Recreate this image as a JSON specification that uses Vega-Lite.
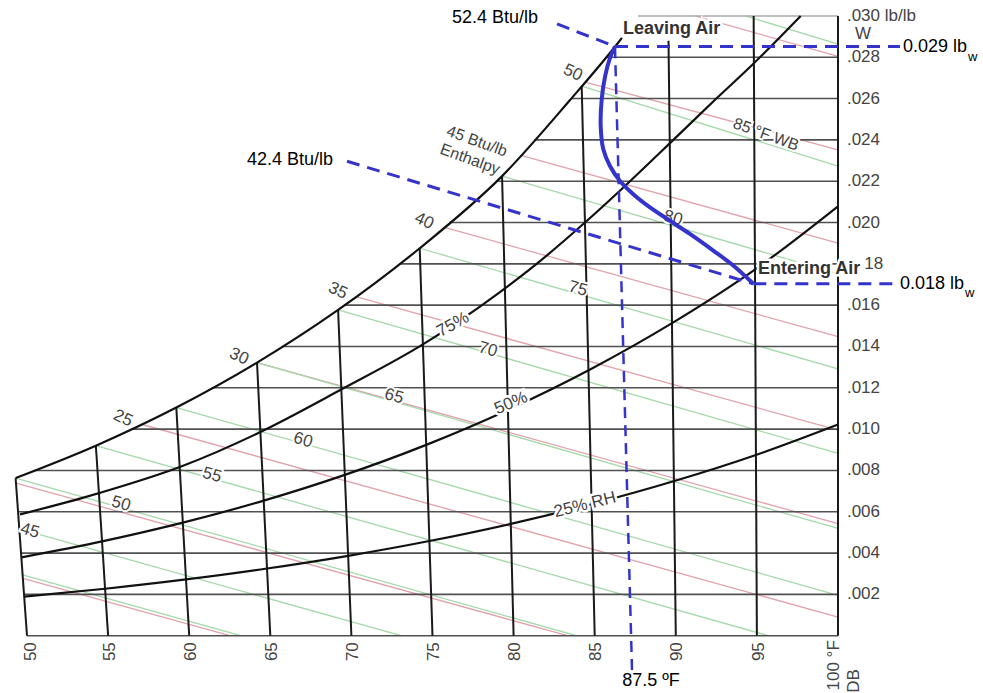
{
"$schema": "https://vega.github.io/schema/vega-lite/v6.json",
"width": 983, "height": 693,
"autosize": {"type": "fit", "contains": "padding"},
"padding": 0,
"background": "white",
"config": {"view": {"stroke": null}, "text": {"font": "Liberation Sans"}},
"datasets": {
"enth": [
{"h":15,"i":0,"x":49.745,"y":0.00277},{"h":15,"i":1,"x":62.5,"y":0},
{"h":20,"i":0,"x":49.32,"y":0.007386},{"h":20,"i":1,"x":83.33,"y":0},
{"h":25,"i":0,"x":57.038,"y":0.010236},{"h":25,"i":1,"x":100,"y":0.000905},
{"h":30,"i":0,"x":64.181,"y":0.013217},{"h":30,"i":1,"x":100,"y":0.005428},
{"h":35,"i":0,"x":70.272,"y":0.016418},{"h":35,"i":1,"x":100,"y":0.009951},
{"h":40,"i":0,"x":75.687,"y":0.019773},{"h":40,"i":1,"x":100,"y":0.014474},
{"h":45,"i":0,"x":80.45,"y":0.023248},{"h":45,"i":1,"x":100,"y":0.018998},
{"h":50,"i":0,"x":84.41,"y":0.0268},{"h":50,"i":1,"x":100,"y":0.023521},
{"h":55,"i":0,"x":91.19,"y":0.03},{"h":55,"i":1,"x":100,"y":0.028044}
],
"wb": [
{"t":40,"i":0,"x":49.729,"y":0.002941},{"t":40,"i":1,"x":63.18,"y":0},
{"t":45,"i":0,"x":49.524,"y":0.005174},{"t":45,"i":1,"x":73.07,"y":0},
{"t":50,"i":0,"x":49.298,"y":0.007631},{"t":50,"i":1,"x":83.87,"y":0},
{"t":55,"i":0,"x":54.246,"y":0.009197},{"t":55,"i":1,"x":95.71,"y":0},
{"t":60,"i":0,"x":59.205,"y":0.011044},{"t":60,"i":1,"x":100,"y":0.001952},
{"t":65,"i":0,"x":64.181,"y":0.013217},{"t":65,"i":1,"x":100,"y":0.005193},
{"t":70,"i":0,"x":69.18,"y":0.015768},{"t":70,"i":1,"x":100,"y":0.008826},
{"t":75,"i":0,"x":74.212,"y":0.018755},{"t":75,"i":1,"x":100,"y":0.012911},
{"t":80,"i":0,"x":79.288,"y":0.022246},{"t":80,"i":1,"x":100,"y":0.01752},
{"t":85,"i":0,"x":84.2,"y":0.0266},{"t":85,"i":1,"x":100,"y":0.022732},
{"t":90,"i":0,"x":94.28,"y":0.03},{"t":90,"i":1,"x":100,"y":0.028641}
],
"hl": [
{"w":0,"i":0,"x":50,"y":0},{"w":0,"i":1,"x":100,"y":0},
{"w":0.002,"i":0,"x":49.816,"y":0.002},{"w":0.002,"i":1,"x":100,"y":0.002},
{"w":0.004,"i":0,"x":49.632,"y":0.004},{"w":0.004,"i":1,"x":100,"y":0.004},
{"w":0.006,"i":0,"x":49.448,"y":0.006},{"w":0.006,"i":1,"x":100,"y":0.006},
{"w":0.008,"i":0,"x":50.464,"y":0.008},{"w":0.008,"i":1,"x":100,"y":0.008},
{"w":0.010,"i":0,"x":56.402,"y":0.010},{"w":0.010,"i":1,"x":100,"y":0.010},
{"w":0.012,"i":0,"x":61.394,"y":0.012},{"w":0.012,"i":1,"x":100,"y":0.012},
{"w":0.014,"i":0,"x":65.716,"y":0.014},{"w":0.014,"i":1,"x":100,"y":0.014},
{"w":0.016,"i":0,"x":69.571,"y":0.016},{"w":0.016,"i":1,"x":100,"y":0.016},
{"w":0.018,"i":0,"x":72.939,"y":0.018},{"w":0.018,"i":1,"x":100,"y":0.018},
{"w":0.020,"i":0,"x":76.022,"y":0.020},{"w":0.020,"i":1,"x":100,"y":0.020},
{"w":0.022,"i":0,"x":78.93,"y":0.022},{"w":0.022,"i":1,"x":100,"y":0.022},
{"w":0.024,"i":0,"x":81.28,"y":0.024},{"w":0.024,"i":1,"x":100,"y":0.024},
{"w":0.026,"i":0,"x":83.55,"y":0.026},{"w":0.026,"i":1,"x":100,"y":0.026},
{"w":0.028,"i":0,"x":85.7,"y":0.028},{"w":0.028,"i":1,"x":100,"y":0.028},
{"w":0.030,"i":0,"x":87.67,"y":0.030},{"w":0.030,"i":1,"x":100,"y":0.030}
],
"db": [
{"t":50,"i":0,"x":50,"y":0},{"t":50,"i":1,"x":49.298,"y":0.007631},
{"t":55,"i":0,"x":55,"y":0},{"t":55,"i":1,"x":54.246,"y":0.009197},
{"t":60,"i":0,"x":60,"y":0},{"t":60,"i":1,"x":59.205,"y":0.011044},
{"t":65,"i":0,"x":65,"y":0},{"t":65,"i":1,"x":64.181,"y":0.013217},
{"t":70,"i":0,"x":70,"y":0},{"t":70,"i":1,"x":69.18,"y":0.015768},
{"t":75,"i":0,"x":75,"y":0},{"t":75,"i":1,"x":74.212,"y":0.018755},
{"t":80,"i":0,"x":80,"y":0},{"t":80,"i":1,"x":79.288,"y":0.022246},
{"t":85,"i":0,"x":85,"y":0},{"t":85,"i":1,"x":84.2,"y":0.0266},
{"t":90,"i":0,"x":90,"y":0},{"t":90,"i":1,"x":89.55,"y":0.0288},
{"t":95,"i":0,"x":95,"y":0},{"t":95,"i":1,"x":94.8,"y":0.030},
{"t":100,"i":0,"x":100,"y":0},{"t":100,"i":1,"x":100,"y":0.030}
],
"rh": [
{"rh":100,"i":0,"x":49.298,"y":0.007631},{"rh":100,"i":1,"x":54.246,"y":0.009197},{"rh":100,"i":2,"x":59.205,"y":0.011044},{"rh":100,"i":3,"x":64.181,"y":0.013217},{"rh":100,"i":4,"x":69.18,"y":0.015768},{"rh":100,"i":5,"x":74.212,"y":0.018755},{"rh":100,"i":6,"x":79.288,"y":0.022246},{"rh":100,"i":7,"x":83.48,"y":0.02593},{"rh":100,"i":8,"x":86.25,"y":0.02851},{"rh":100,"i":9,"x":86.68,"y":0.02894},
{"rh":75,"i":0,"x":49.57,"y":0.00587},{"rh":75,"i":1,"x":54.5,"y":0.006916},{"rh":75,"i":2,"x":59.54,"y":0.008202},{"rh":75,"i":3,"x":64.389,"y":0.009861},{"rh":75,"i":4,"x":69.45,"y":0.01195},{"rh":75,"i":5,"x":74.33,"y":0.014063},{"rh":75,"i":6,"x":79.16,"y":0.016636},{"rh":75,"i":7,"x":81.42,"y":0.018},{"rh":75,"i":8,"x":84.4,"y":0.02},{"rh":75,"i":9,"x":87.18,"y":0.022},{"rh":75,"i":10,"x":89.85,"y":0.024},{"rh":75,"i":11,"x":92.5,"y":0.026},{"rh":75,"i":12,"x":94.8,"y":0.0277},{"rh":75,"i":13,"x":97.7,"y":0.03},
{"rh":50,"i":0,"x":49.651,"y":0.003792},{"rh":50,"i":1,"x":54.626,"y":0.004565},{"rh":50,"i":2,"x":59.606,"y":0.005473},{"rh":50,"i":3,"x":64.595,"y":0.006539},{"rh":50,"i":4,"x":69.595,"y":0.007785},{"rh":50,"i":5,"x":74.612,"y":0.009238},{"rh":50,"i":6,"x":79.65,"y":0.010928},{"rh":50,"i":7,"x":84.716,"y":0.012887},{"rh":50,"i":8,"x":89.818,"y":0.015154},{"rh":50,"i":9,"x":94.964,"y":0.017771},{"rh":50,"i":10,"x":100,"y":0.020787},
{"rh":25,"i":0,"x":49.826,"y":0.00189},{"rh":25,"i":1,"x":54.814,"y":0.002274},{"rh":25,"i":2,"x":59.804,"y":0.002725},{"rh":25,"i":3,"x":64.798,"y":0.003253},{"rh":25,"i":4,"x":69.799,"y":0.003869},{"rh":25,"i":5,"x":74.807,"y":0.004585},{"rh":25,"i":6,"x":79.827,"y":0.005416},{"rh":25,"i":7,"x":84.86,"y":0.006377},{"rh":25,"i":8,"x":89.91,"y":0.007486},{"rh":25,"i":9,"x":94.982,"y":0.00876},{"rh":25,"i":10,"x":100,"y":0.010223}
],
"process": [
{"i":0,"x":86.25,"y":0.02852},{"i":1,"x":85.94,"y":0.027961},{"i":2,"x":85.64,"y":0.027075},{"i":3,"x":85.43,"y":0.025952},{"i":4,"x":85.37,"y":0.024665},{"i":5,"x":85.53,"y":0.023542},{"i":6,"x":85.94,"y":0.022737},{"i":7,"x":86.56,"y":0.022014},{"i":8,"x":87.38,"y":0.021373},{"i":9,"x":88.41,"y":0.020733},{"i":10,"x":89.64,"y":0.020087},{"i":11,"x":90.87,"y":0.019446},{"i":12,"x":92.31,"y":0.018641},{"i":13,"x":93.54,"y":0.017918},{"i":14,"x":94.78,"y":0.017036}
],
"dash": [
{"id":"h52","i":0,"x":82.68,"y":0.029614},{"id":"h52","i":1,"x":86.25,"y":0.02852},
{"id":"h42","i":0,"x":69.73,"y":0.022964},{"id":"h42","i":1,"x":94.78,"y":0.017036},
{"id":"w029","i":0,"x":86.25,"y":0.02852},{"id":"w029","i":1,"x":103.82,"y":0.02852},
{"id":"w018","i":0,"x":94.78,"y":0.017036},{"id":"w018","i":1,"x":103.39,"y":0.017036},
{"id":"db875","i":0,"x":87.3,"y":-0.00166},{"id":"db875","i":1,"x":86.25,"y":0.02852}
],
"labels": [
{"g":"wb","text":"45","x":50.18,"y":0.005084},
{"g":"wb","text":"50","x":55.8,"y":0.006386},
{"g":"wb","text":"55","x":61.41,"y":0.007783},
{"g":"wb","text":"60","x":67.02,"y":0.00947},
{"g":"wb","text":"65","x":72.63,"y":0.01159},
{"g":"wb","text":"70","x":78.42,"y":0.013855},
{"g":"wb","text":"75","x":83.97,"y":0.016795},
{"g":"wb","text":"80","x":89.83,"y":0.020217},
{"g":"en","text":"25","x":55.92,"y":0.01053},
{"g":"en","text":"30","x":63.07,"y":0.013518},
{"g":"en","text":"35","x":69.17,"y":0.016699},
{"g":"en","text":"40","x":74.48,"y":0.020072},
{"g":"en","text":"50","x":83.66,"y":0.027253},
{"g":"note","text":"45 Btu/lb","x":77.74,"y":0.023928},
{"g":"note","text":"Enthalpy","x":77.31,"y":0.02306},
{"g":"note","text":"85 °F WB","x":95.56,"y":0.024265},
{"g":"rh75","text":"75%","x":76.26,"y":0.01506},
{"g":"rh50","text":"50%","x":79.84,"y":0.011253},
{"g":"rh25","text":"25% RH","x":84.4,"y":0.006337},
{"g":"state","text":"Leaving Air","x":86.74,"y":0.02935},
{"g":"state","text":"Entering Air","x":95.07,"y":0.017759},
{"g":"ytick","text":".030 lb/lb","x":100.55,"y":0.03},
{"g":"ytick","text":".028","x":100.55,"y":0.028},
{"g":"ytick","text":".026","x":100.55,"y":0.026},
{"g":"ytick","text":".024","x":100.55,"y":0.024},
{"g":"ytick","text":".022","x":100.55,"y":0.022},
{"g":"ytick","text":".020","x":100.55,"y":0.02},
{"g":"ytick","text":"18","x":101.62,"y":0.018},
{"g":"ytick","text":".016","x":100.55,"y":0.016},
{"g":"ytick","text":".014","x":100.55,"y":0.014},
{"g":"ytick","text":".012","x":100.55,"y":0.012},
{"g":"ytick","text":".010","x":100.55,"y":0.01},
{"g":"ytick","text":".008","x":100.55,"y":0.008},
{"g":"ytick","text":".006","x":100.55,"y":0.006},
{"g":"ytick","text":".004","x":100.55,"y":0.004},
{"g":"ytick","text":".002","x":100.55,"y":0.002},
{"g":"wlab","text":"W","x":101.54,"y":0.029133},
{"g":"xtick","text":"50","x":50.25,"y":-0.000313},
{"g":"xtick","text":"55","x":55.1,"y":-0.000313},
{"g":"xtick","text":"60","x":60.1,"y":-0.000313},
{"g":"xtick","text":"65","x":65.1,"y":-0.000313},
{"g":"xtick","text":"70","x":70.1,"y":-0.000313},
{"g":"xtick","text":"75","x":75.1,"y":-0.000313},
{"g":"xtick","text":"80","x":80.1,"y":-0.000313},
{"g":"xtick","text":"85","x":85.1,"y":-0.000313},
{"g":"xtick","text":"90","x":90.1,"y":-0.000313},
{"g":"xtick","text":"95","x":95.1,"y":-0.000313},
{"g":"xtick","text":"100 °F","x":99.75,"y":-0.000217},
{"g":"xtick","text":"DB","x":100.99,"y":-0.001614},
{"g":"annl","text":"52.4 Btu/lb","x":76.2,"y":0.02988},
{"g":"annl","text":"42.4 Btu/lb","x":63.56,"y":0.023012},
{"g":"annl","text":"0.029 lb","x":104.01,"y":0.02852},
{"g":"annl","text":"0.018 lb","x":103.82,"y":0.017036},
{"g":"annc","text":"87.5 ºF","x":88.47,"y":-0.00219},
{"g":"sub","text":"w","x":108.01,"y":0.02802},
{"g":"sub","text":"w","x":107.83,"y":0.0166}
]
},
"encoding": {
"x": {"field": "x", "type": "quantitative", "scale": {"domain": [48.335, 108.94], "nice": false, "zero": false}, "axis": null},
"y": {"field": "y", "type": "quantitative", "scale": {"domain": [-0.002627, 0.030771], "nice": false, "zero": false}, "axis": null}
},
"layer": [
{"data": {"name": "enth"}, "mark": {"type": "line", "stroke": "#e2a2ad", "strokeWidth": 1.3},
 "encoding": {"detail": {"field": "h", "type": "nominal"}, "order": {"field": "i", "type": "quantitative"}}},
{"data": {"name": "wb"}, "mark": {"type": "line", "stroke": "#a4d9a8", "strokeWidth": 1.3},
 "encoding": {"detail": {"field": "t", "type": "nominal"}, "order": {"field": "i", "type": "quantitative"}}},
{"data": {"name": "hl"}, "transform": [{"filter": "datum.w < 0.0299"}], "mark": {"type": "line", "stroke": "#505050", "strokeWidth": 1.6},
 "encoding": {"detail": {"field": "w", "type": "nominal"}, "order": {"field": "i", "type": "quantitative"}}},
{"data": {"name": "hl"}, "transform": [{"filter": "datum.w >= 0.0299"}], "mark": {"type": "line", "stroke": "#aaaaaa", "strokeWidth": 1.5},
 "encoding": {"detail": {"field": "w", "type": "nominal"}, "order": {"field": "i", "type": "quantitative"}}},
{"data": {"name": "db"}, "mark": {"type": "line", "stroke": "#1a1a1a", "strokeWidth": 2},
 "encoding": {"detail": {"field": "t", "type": "nominal"}, "order": {"field": "i", "type": "quantitative"}}},
{"data": {"name": "rh"}, "mark": {"type": "line", "stroke": "#111111", "strokeWidth": 2.2, "interpolate": "monotone"},
 "encoding": {"detail": {"field": "rh", "type": "nominal"}, "order": {"field": "i", "type": "quantitative"}}},
{"data": {"name": "labels"}, "transform": [{"filter": "datum.g === 'wb'"}], "encoding": {"text": {"field": "text"}},
 "layer": [
  {"mark": {"type": "text", "angle": 16, "fontSize": 17, "fill": "white", "stroke": "white", "strokeWidth": 4}},
  {"mark": {"type": "text", "angle": 16, "fontSize": 17, "fill": "#444444"}}]},
{"data": {"name": "labels"}, "transform": [{"filter": "datum.g === 'en'"}], "encoding": {"text": {"field": "text"}},
 "layer": [
  {"mark": {"type": "text", "angle": 25, "fontSize": 17, "fill": "white", "stroke": "white", "strokeWidth": 4}},
  {"mark": {"type": "text", "angle": 25, "fontSize": 17, "fill": "#444444"}}]},
{"data": {"name": "labels"}, "transform": [{"filter": "datum.g === 'note'"}], "encoding": {"text": {"field": "text"}},
 "layer": [
  {"mark": {"type": "text", "angle": 20, "fontSize": 16, "fill": "white", "stroke": "white", "strokeWidth": 4}},
  {"mark": {"type": "text", "angle": 20, "fontSize": 16, "fill": "#444444"}}]},
{"data": {"name": "labels"}, "transform": [{"filter": "datum.g === 'rh75'"}], "encoding": {"text": {"field": "text"}},
 "layer": [
  {"mark": {"type": "text", "angle": -29, "fontSize": 17, "fill": "white", "stroke": "white", "strokeWidth": 5}},
  {"mark": {"type": "text", "angle": -29, "fontSize": 17, "fill": "#444444"}}]},
{"data": {"name": "labels"}, "transform": [{"filter": "datum.g === 'rh50'"}], "encoding": {"text": {"field": "text"}},
 "layer": [
  {"mark": {"type": "text", "angle": -23, "fontSize": 17, "fill": "white", "stroke": "white", "strokeWidth": 5}},
  {"mark": {"type": "text", "angle": -23, "fontSize": 17, "fill": "#444444"}}]},
{"data": {"name": "labels"}, "transform": [{"filter": "datum.g === 'rh25'"}], "encoding": {"text": {"field": "text"}},
 "layer": [
  {"mark": {"type": "text", "angle": -14, "fontSize": 17, "fill": "white", "stroke": "white", "strokeWidth": 5}},
  {"mark": {"type": "text", "angle": -14, "fontSize": 17, "fill": "#444444"}}]},
{"data": {"name": "labels"}, "transform": [{"filter": "datum.g === 'ytick'"}], "encoding": {"text": {"field": "text"}},
 "mark": {"type": "text", "align": "left", "baseline": "middle", "fontSize": 17, "fill": "#444444"}},
{"data": {"name": "labels"}, "transform": [{"filter": "datum.g === 'wlab'"}], "encoding": {"text": {"field": "text"}},
 "mark": {"type": "text", "align": "center", "baseline": "middle", "fontSize": 17, "fill": "#444444"}},
{"data": {"name": "labels"}, "transform": [{"filter": "datum.g === 'xtick'"}], "encoding": {"text": {"field": "text"}},
 "mark": {"type": "text", "angle": 270, "align": "right", "baseline": "middle", "fontSize": 17, "fill": "#444444"}},
{"data": {"name": "labels"}, "transform": [{"filter": "datum.g === 'state'"}], "encoding": {"text": {"field": "text"}},
 "layer": [
  {"mark": {"type": "text", "align": "left", "baseline": "middle", "fontSize": 18, "fontWeight": "bold", "fill": "white", "stroke": "white", "strokeWidth": 5}},
  {"mark": {"type": "text", "align": "left", "baseline": "middle", "fontSize": 18, "fontWeight": "bold", "fill": "#333333"}}]},
{"data": {"name": "dash"}, "transform": [{"filter": "datum.id !== 'db875'"}], "mark": {"type": "line", "stroke": "#3434cc", "strokeWidth": 3, "strokeDash": [13, 8]},
 "encoding": {"detail": {"field": "id", "type": "nominal"}, "order": {"field": "i", "type": "quantitative"}}},
{"data": {"name": "dash"}, "transform": [{"filter": "datum.id === 'db875'"}], "mark": {"type": "line", "stroke": "#3434cc", "strokeWidth": 2.5, "strokeDash": [11, 7]},
 "encoding": {"detail": {"field": "id", "type": "nominal"}, "order": {"field": "i", "type": "quantitative"}}},
{"data": {"name": "process"}, "mark": {"type": "line", "stroke": "#3434cc", "strokeWidth": 4, "interpolate": "catmull-rom"},
 "encoding": {"order": {"field": "i", "type": "quantitative"}}},
{"data": {"name": "labels"}, "transform": [{"filter": "datum.g === 'annl'"}], "encoding": {"text": {"field": "text"}},
 "mark": {"type": "text", "align": "left", "baseline": "middle", "fontSize": 18, "fill": "black"}},
{"data": {"name": "labels"}, "transform": [{"filter": "datum.g === 'annc'"}], "encoding": {"text": {"field": "text"}},
 "mark": {"type": "text", "align": "center", "baseline": "middle", "fontSize": 18, "fill": "black"}},
{"data": {"name": "labels"}, "transform": [{"filter": "datum.g === 'sub'"}], "encoding": {"text": {"field": "text"}},
 "mark": {"type": "text", "align": "left", "baseline": "middle", "fontSize": 13, "fill": "black"}}
]
}
